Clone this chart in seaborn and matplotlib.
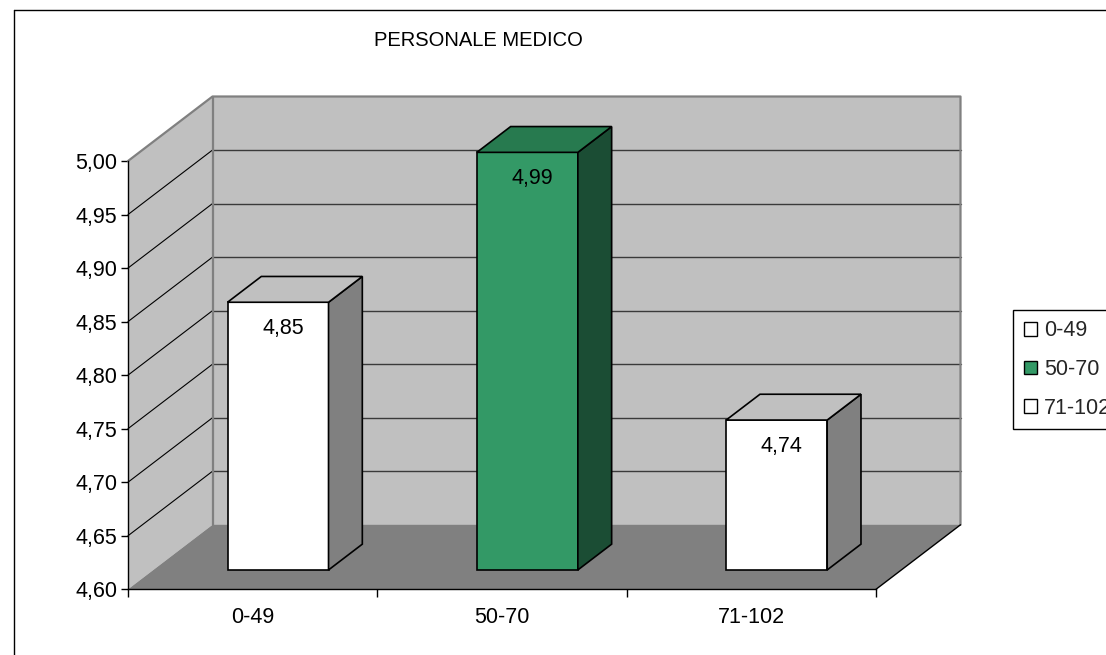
import matplotlib
matplotlib.use("Agg")
import matplotlib.pyplot as plt
import seaborn as sns
import pandas as pd
from matplotlib.patches import Polygon, Patch
from matplotlib.lines import Line2D
from matplotlib.ticker import FuncFormatter

# ---- data -------------------------------------------------------------
categories = ["0-49", "50-70", "71-102"]
values = [4.85, 4.99, 4.74]
value_labels = ["4,85", "4,99", "4,74"]
y_ticks = [4.60, 4.65, 4.70, 4.75, 4.80, 4.85, 4.90, 4.95, 5.00]
title = "PERSONALE MEDICO"

# ---- styling ----------------------------------------------------------
front_colors = ["#FFFFFF", "#339966", "#FFFFFF"]
top_colors = ["#C0C0C0", "#277A4F", "#C0C0C0"]
side_colors = ["#808080", "#1B4D34", "#808080"]
WALL = "#C0C0C0"
FLOOR = "#808080"
EDGE = "#808080"
FS = 15.5

sns.set_theme(style="white")
plt.rcParams["font.family"] = ["Liberation Sans", "DejaVu Sans"]

W, H = 1106, 655
fig = plt.figure(figsize=(W / 100, H / 100), dpi=100)
fig.patch.set_facecolor("white")

# pixel layout of the front plane and the depth of the 3-D box
FX0, FX1 = 128.0, 876.0      # front x-axis ends
FY0, FY1 = 589.3, 161.0      # y of 4.60 and 5.00 on the front plane
DEPTH_PX = (84.5, 64.5)
YMIN, YMAX = y_ticks[0], y_ticks[-1]
XMIN, XMAX = -0.5, len(categories) - 0.5
px_x = (FX1 - FX0) / (XMAX - XMIN)
px_y = (FY0 - FY1) / (YMAX - YMIN)
DX = DEPTH_PX[0] / px_x
DY = DEPTH_PX[1] / px_y

right_px = FX1 + DEPTH_PX[0] + 1
top_px = FY1 - DEPTH_PX[1] - 1
ax = fig.add_axes([FX0 / W, (H - FY0) / H, (right_px - FX0) / W, (FY0 - top_px) / H])
ax.set_facecolor("none")

# bar geometry (fractions of the depth)
BAR_W = 101 / px_x
F0, F1 = 0.30, 0.70

# ---- bars (front faces via seaborn) ------------------------------------
df = pd.DataFrame({"fascia": categories, "valore": values})
sns.barplot(data=df, x="fascia", y="valore", hue="fascia", palette=front_colors,
            saturation=1, width=BAR_W, errorbar=None, legend=False, ax=ax,
            edgecolor="black", linewidth=1.2)

ax.set_xlim(XMIN, XMAX + DX + 1 / px_x)
ax.set_ylim(YMIN, YMAX + DY + 1 / px_y)

# ---- box: left wall, back wall, floor ---------------------------------
left_wall = Polygon([(XMIN, YMIN), (XMIN, YMAX), (XMIN + DX, YMAX + DY), (XMIN + DX, YMIN + DY)],
                    closed=True, facecolor=WALL, edgecolor="none", zorder=0.5, clip_on=False)
back_wall = Polygon([(XMIN + DX, YMIN + DY), (XMIN + DX, YMAX + DY), (XMAX + DX, YMAX + DY), (XMAX + DX, YMIN + DY)],
                    closed=True, facecolor=WALL, edgecolor="none", zorder=0.5, clip_on=False)
floor = Polygon([(XMIN, YMIN), (XMAX, YMIN), (XMAX + DX, YMIN + DY), (XMIN + DX, YMIN + DY)],
                closed=True, facecolor=FLOOR, edgecolor="none", zorder=0.6, clip_on=False)
for p in (left_wall, back_wall, floor):
    ax.add_patch(p)

# gridlines on the walls
for v in y_ticks[1:-1]:
    ax.plot([XMIN + DX, XMAX + DX], [v + DY, v + DY], color="#3A3A3A", lw=1.0, zorder=1, clip_on=False)
    ax.plot([XMIN, XMIN + DX], [v, v + DY], color="black", lw=0.8, zorder=1, clip_on=False)

# box outline
ax.plot([XMIN, XMIN + DX, XMAX + DX, XMAX + DX], [YMAX, YMAX + DY, YMAX + DY, YMIN + DY],
        color=EDGE, lw=1.6, zorder=1.2, clip_on=False)
ax.plot([XMIN + DX, XMIN + DX], [YMIN + DY, YMAX + DY], color=EDGE, lw=1.6, zorder=1.2, clip_on=False)
ax.plot([XMAX, XMAX + DX], [YMIN, YMIN + DY], color="black", lw=1.0, zorder=1.2, clip_on=False)

# ---- turn flat bars into prisms ---------------------------------------
bdx, bdy = (F1 - F0) * DX, (F1 - F0) * DY
for p in list(ax.patches):
    if p in (left_wall, back_wall, floor):
        continue
    i = int(round(p.get_x() + p.get_width() / 2))
    v = values[i]
    x0 = p.get_x() + F0 * DX
    y0 = YMIN + F0 * DY
    top = v + F0 * DY
    w = p.get_width()
    p.set_x(x0)
    p.set_y(y0)
    p.set_height(top - y0)
    p.set_zorder(3)
    p.set_clip_on(False)
    top_face = Polygon([(x0, top), (x0 + w, top), (x0 + w + bdx, top + bdy), (x0 + bdx, top + bdy)],
                       closed=True, facecolor=top_colors[i], edgecolor="black", lw=1.2,
                       zorder=3, clip_on=False, joinstyle="miter")
    side_face = Polygon([(x0 + w, y0), (x0 + w, top), (x0 + w + bdx, top + bdy), (x0 + w + bdx, y0 + bdy)],
                        closed=True, facecolor=side_colors[i], edgecolor="black", lw=1.2,
                        zorder=3, clip_on=False, joinstyle="miter")
    ax.add_patch(side_face)
    ax.add_patch(top_face)
    ax.annotate(value_labels[i], xy=(x0 + w / 2, top), xytext=(3.6, -19.0),
                textcoords="offset points", ha="center", va="center",
                fontsize=FS, color="black", zorder=5)

# ---- axes, ticks -------------------------------------------------------
for s in ("top", "right"):
    ax.spines[s].set_visible(False)
for s in ("left", "bottom"):
    ax.spines[s].set_color("black")
    ax.spines[s].set_linewidth(1.0)
    ax.spines[s].set_zorder(4)
ax.spines["left"].set_bounds(YMIN, YMAX)
ax.spines["bottom"].set_bounds(XMIN, XMAX)

ax.set_yticks(y_ticks)
ax.yaxis.set_major_formatter(FuncFormatter(lambda v, _: f"{v:.2f}".replace(".", ",")))
ax.set_xticks(range(len(categories)))
ax.set_xticklabels(categories)
ax.set_xticks([XMIN + k for k in range(len(categories) + 1)], minor=True)
ax.set_xlabel("")
ax.set_ylabel("")
ax.tick_params(axis="y", which="major", left=True, direction="out", length=5,
               width=1, color="black", pad=2.5, labelsize=FS, labelcolor="black")
ax.tick_params(axis="x", which="major", bottom=True, length=0, pad=13,
               labelsize=FS, labelcolor="black")
ax.tick_params(axis="x", which="minor", bottom=True, direction="out", length=5.5,
               width=1, color="black")

# ---- title, legend, frame ---------------------------------------------
fig.text(478 / W, 1 - 41 / H, title, ha="center", va="center", fontsize=14.5,
         color="black")

handles = [Patch(facecolor=c, edgecolor="black", lw=1.0) for c in front_colors]
leg = fig.legend(handles, categories, loc="upper left",
                 bbox_to_anchor=(1013.3 / W, 1 - 310 / H), bbox_transform=fig.transFigure,
                 borderaxespad=0, frameon=True, fancybox=False, framealpha=1,
                 edgecolor="black", fontsize=FS, handlelength=0.6, handleheight=0.6,
                 handletextpad=0.35, labelspacing=0.82, borderpad=0.48)
leg.get_frame().set_linewidth(1.0)

fig.add_artist(Line2D([13.5 / W, 13.5 / W], [0, 1 - 10 / H], color="black", lw=1.0,
                      transform=fig.transFigure))
fig.add_artist(Line2D([13.5 / W, 1], [1 - 10 / H, 1 - 10 / H], color="black", lw=1.0,
                      transform=fig.transFigure))

fig.savefig("out.png", dpi=100)
